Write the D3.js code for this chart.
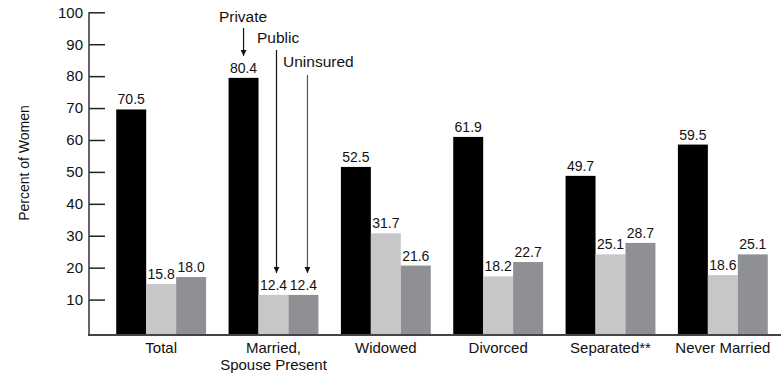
<!DOCTYPE html>
<html>
<head>
<meta charset="utf-8">
<script src="https://cdn.jsdelivr.net/npm/d3@7"></script>
<style>
  body { margin: 0; background: #fff; }
  text { font-family: Arial, "Liberation Sans", sans-serif; fill: #111; }
</style>
</head>
<body>
<script>
// chart data
let categories = ["Total", "Married,\nSpouse Present", "Widowed", "Divorced", "Separated**", "Never Married"];
let seriesNames = ["Private", "Public", "Uninsured"];
let privateVals = [70.5, 80.4, 52.5, 61.9, 49.7, 59.5];
let publicVals = [15.8, 12.4, 31.7, 18.2, 25.1, 18.6];
let uninsuredVals = [18.0, 12.4, 21.6, 22.7, 28.7, 25.1];
let yTicks = [10, 20, 30, 40, 50, 60, 70, 80, 90, 100];

let colors = ["#000000", "#c6c7c9", "#8f9094"];

let width = 781, height = 374;

let svg = d3.select("body").append("svg")
    .attr("width", width)
    .attr("height", height);

// scales
let yScale = d3.scaleLinear().domain([0, 100]).range([334.5, 15.3]);
let xScale = d3.scaleBand().domain(categories).range([105, 779])
    .paddingInner(0.2).paddingOuter(0.1);
let xSub = d3.scaleBand().domain(seriesNames).range([0, xScale.bandwidth()]);

// build rows for each bar
let rows = [];
categories.forEach(function(c, i) {
    let vals = [privateVals[i], publicVals[i], uninsuredVals[i]];
    vals.forEach(function(v, j) {
        rows.push({cat: c, series: seriesNames[j], value: v, idx: j});
    });
});

// bars
svg.selectAll(".bar")
    .data(rows)
  .enter().append("rect")
    .attr("class", "bar")
    .attr("x", function(d) { return xScale(d.cat) + xSub(d.series); })
    .attr("y", function(d) { return yScale(d.value); })
    .attr("width", xSub.bandwidth())
    .attr("height", function(d) { return yScale(0) - yScale(d.value); })
    .attr("fill", function(d) { return colors[d.idx]; });

// value labels
svg.selectAll(".val")
    .data(rows)
  .enter().append("text")
    .attr("class", "val")
    .attr("x", function(d) { return xScale(d.cat) + xSub(d.series) + xSub.bandwidth() / 2; })
    .attr("y", function(d) { return yScale(d.value) - 5; })
    .attr("text-anchor", "middle")
    .style("font-size", "14px")
    .text(function(d) { return d.value.toFixed(1); });

// y axis (ticks point inward)
let yAxis = svg.append("g")
    .attr("transform", "translate(89,-3)")
    .call(d3.axisLeft(yScale).tickValues(yTicks).tickSizeInner(-16).tickSizeOuter(0).tickPadding(6));
yAxis.select(".domain").remove();
yAxis.selectAll(".tick line").attr("stroke", "#222").attr("stroke-width", 1.5);
yAxis.selectAll(".tick text")
    .style("font-size", "15px")
    .style("font-family", "Arial, 'Liberation Sans', sans-serif")
    .attr("fill", "#111");

svg.append("line")
    .attr("x1", 89).attr("x2", 89)
    .attr("y1", yScale(100) - 3).attr("y2", yScale(0) + 0.5)
    .attr("stroke", "#333").attr("stroke-width", 1.5);

// baseline
svg.append("line")
    .attr("x1", 88).attr("x2", width)
    .attr("y1", yScale(0) + 0.5).attr("y2", yScale(0) + 0.5)
    .attr("stroke", "#444").attr("stroke-width", 2);

// category labels
svg.selectAll(".cat")
    .data(categories)
  .enter().append("text")
    .attr("class", "cat")
    .attr("text-anchor", "middle")
    .attr("x", function(d) { return xScale(d) + xScale.bandwidth() / 2; })
    .attr("y", 353)
    .style("font-size", "15px")
    .each(function(d) {
        let lines = d.split("\n");
        let t = d3.select(this);
        lines.forEach(function(l, i) {
            t.append("tspan")
                .attr("x", xScale(d) + xScale.bandwidth() / 2)
                .attr("dy", i === 0 ? 0 : 16.5)
                .text(l);
        });
    });

// y axis title
svg.append("text")
    .attr("transform", "translate(29,163) rotate(-90)")
    .attr("text-anchor", "middle")
    .style("font-size", "14px")
    .text("Percent of Women");

// legend callouts pointing at the married group
svg.append("defs").append("marker")
    .attr("id", "arrow")
    .attr("viewBox", "0 0 10 10")
    .attr("refX", 10).attr("refY", 5)
    .attr("markerWidth", 6).attr("markerHeight", 6)
    .attr("markerUnits", "userSpaceOnUse")
    .attr("orient", "auto")
  .append("path")
    .attr("d", "M0,0 L10,5 L0,10 z")
    .attr("fill", "#111");

let married = categories[1];
let callouts = [
    {name: "Private", textX: 243, textY: 22, anchor: "middle", lx: 0, y1: 28, color: "#111"},
    {name: "Public", textX: 257, textY: 43, anchor: "start", lx: 3, y1: 50, color: "#111"},
    {name: "Uninsured", textX: 283, textY: 67, anchor: "start", lx: 4, y1: 75, color: "#555"}
];
callouts.forEach(function(c, j) {
    let bx = xScale(married) + xSub(c.name) + xSub.bandwidth() / 2 + c.lx;
    let v = [privateVals[1], publicVals[1], uninsuredVals[1]][j];
    svg.append("text")
        .attr("x", c.textX).attr("y", c.textY)
        .attr("text-anchor", c.anchor)
        .style("font-size", "15.5px")
        .text(c.name);
    svg.append("line")
        .attr("x1", bx).attr("x2", bx)
        .attr("y1", c.y1).attr("y2", yScale(v) - 22)
        .attr("stroke", c.color).attr("stroke-width", 1.2)
        .attr("marker-end", "url(#arrow)");
});
</script>
</body>
</html>
